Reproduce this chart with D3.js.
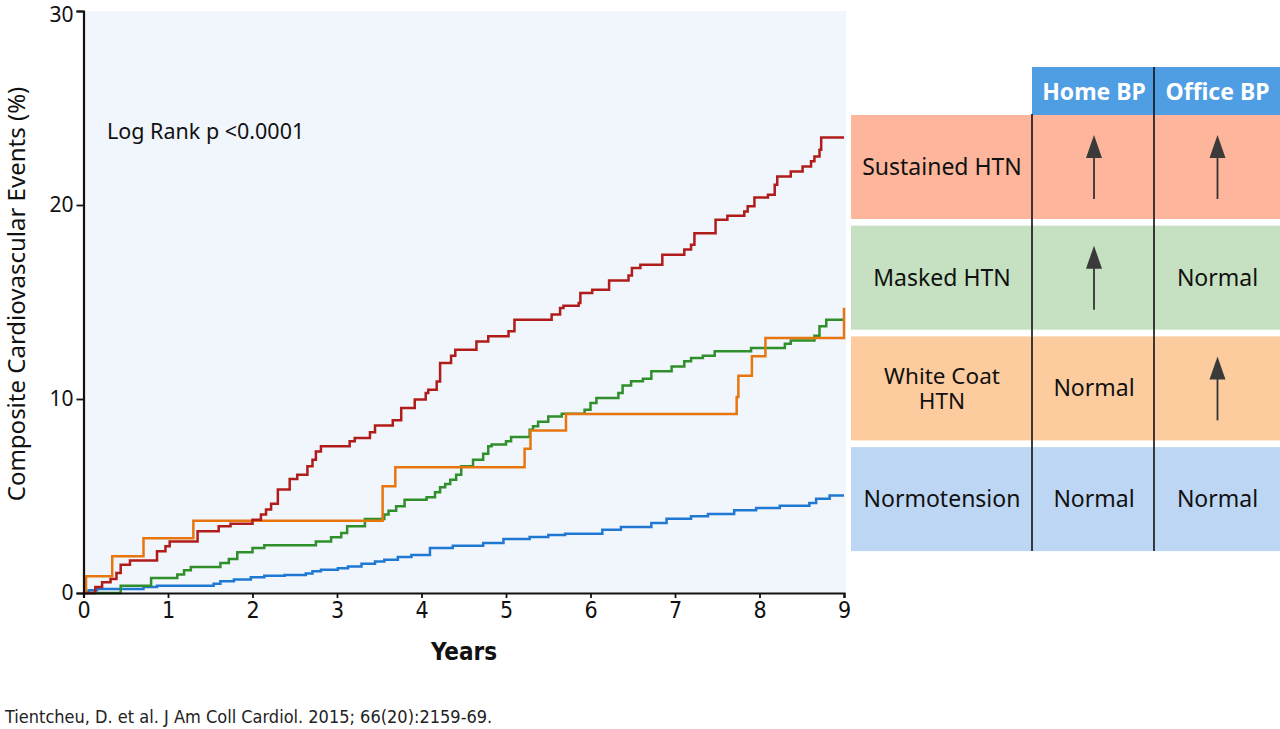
<!DOCTYPE html>
<html>
<head>
<meta charset="utf-8">
<script src="https://cdn.jsdelivr.net/npm/d3@7"></script>
<style>
  body { margin: 0; background: #fff; }
  svg { display: block; }
</style>
</head>
<body>
<svg id="chart" width="1280" height="729"></svg>
<script>
// KM curves, [years, cumulative events %]
const normotension = [[0,0],[0.06,0.14],[0.16,0.2],[0.71,0.31],[0.87,0.38],[1.54,0.48],[1.62,0.6],[1.78,0.69],[1.98,0.81],[2.14,0.89],[2.38,0.93],[2.63,1.0],[2.71,1.12],[2.81,1.2],[3.01,1.27],[3.13,1.37],[3.29,1.51],[3.45,1.63],[3.56,1.72],[3.72,1.86],[3.88,1.96],[4.1,2.32],[4.37,2.44],[4.73,2.58],[4.97,2.78],[5.28,2.89],[5.5,2.99],[5.7,3.06],[6.14,3.26],[6.36,3.4],[6.72,3.61],[6.9,3.83],[7.19,3.95],[7.39,4.07],[7.7,4.26],[7.96,4.38],[8.24,4.5],[8.59,4.64],[8.67,4.86],[8.83,5.02],[9,5.02]];
const whiteCoat = [[0,0],[0.03,0.86],[0.34,1.89],[0.71,2.82],[1.3,3.73],[3.54,5.5],[3.69,6.48],[5.22,7.44],[5.29,8.37],[5.71,9.23],[7.73,10.1],[7.75,11.2],[7.91,12.2],[8.07,13.14],[9,14.7]];
const masked = [[0,0],[0.44,0.38],[0.8,0.77],[1.11,0.95],[1.19,1.17],[1.27,1.34],[1.62,1.55],[1.72,1.75],[1.82,2.1],[2.0,2.32],[2.14,2.46],[2.75,2.66],[2.93,2.87],[3.05,3.09],[3.12,3.44],[3.33,3.81],[3.56,4.04],[3.61,4.24],[3.7,4.47],[3.8,4.81],[4.06,4.93],[4.16,5.19],[4.22,5.45],[4.28,5.62],[4.34,5.84],[4.41,6.1],[4.47,6.53],[4.61,6.87],[4.73,7.18],[4.79,7.56],[4.83,7.65],[5.0,7.82],[5.06,8.04],[5.28,8.42],[5.32,8.59],[5.38,8.83],[5.5,9.1],[5.66,9.24],[5.93,9.45],[6.0,9.79],[6.07,10.05],[6.33,10.31],[6.38,10.69],[6.48,10.91],[6.62,11.05],[6.72,11.43],[6.96,11.68],[7.11,11.94],[7.19,12.11],[7.33,12.23],[7.47,12.46],[7.9,12.63],[8.3,12.85],[8.37,13.02],[8.65,13.26],[8.71,13.75],[8.79,14.09],[9,14.09]];
const sustained = [[0,0],[0.14,0.31],[0.22,0.55],[0.32,0.72],[0.39,1.03],[0.44,1.46],[0.55,1.68],[0.87,2.15],[0.97,2.41],[1.02,2.66],[1.35,3.18],[1.6,3.44],[1.74,3.57],[2.0,3.78],[2.1,4.04],[2.16,4.3],[2.22,4.6],[2.3,5.33],[2.44,5.88],[2.53,6.1],[2.65,6.53],[2.71,6.87],[2.75,7.3],[2.81,7.56],[3.15,7.82],[3.21,7.99],[3.39,8.28],[3.45,8.63],[3.66,8.9],[3.76,9.54],[3.92,9.97],[4.05,10.31],[4.08,10.48],[4.18,10.9],[4.22,11.86],[4.35,12.23],[4.4,12.54],[4.65,12.97],[4.79,13.23],[5.03,13.49],[5.1,14.09],[5.54,14.35],[5.64,14.69],[5.68,14.81],[5.86,14.95],[5.88,15.46],[6.02,15.63],[6.22,16.11],[6.45,16.36],[6.49,16.75],[6.59,16.92],[6.85,17.44],[7.11,17.7],[7.19,17.95],[7.23,18.55],[7.48,19.24],[7.62,19.45],[7.82,19.67],[7.86,19.93],[7.94,20.39],[8.1,20.53],[8.18,21.05],[8.21,21.47],[8.37,21.73],[8.51,21.99],[8.61,22.25],[8.65,22.5],[8.71,22.85],[8.73,23.48],[9,23.48]];

const seriesData = [normotension, masked, whiteCoat, sustained];
const seriesColors = ["#1f78d1", "#2f8f2a", "#e8760f", "#b01c1a"];

const xTicks = [0,1,2,3,4,5,6,7,8,9];
const yTicks = [0,10,20,30];

// table
const groups = ["Sustained HTN", "Masked HTN", "White Coat HTN", "Normotension"];
const homeBP = ["up", "up", "Normal", "Normal"];
const officeBP = ["up", "Normal", "up", "Normal"];
const groupColors = ["#fdb69b", "#c6e1c1", "#fdcc9e", "#bdd6f3"];
const headers = ["Home BP", "Office BP"];

const svg = d3.select("#chart");
const sans = "'Noto Sans', 'Open Sans', sans-serif";
const narrow = "'DejaVu Sans Condensed', 'Liberation Sans Narrow', sans-serif";

let x = d3.scaleLinear().domain([0, 9]).range([83.5, 844]);
let y = d3.scaleLinear().domain([0, 30]).range([593, 11]);

//PLOT BACKGROUND
svg.append("rect")
  .attr("x", x(0))
  .attr("y", y(30))
  .attr("width", x(9) - x(0) + 2)
  .attr("height", y(0) - y(30))
  .attr("fill", "#f1f5fc");

//LINES
let line = d3.line()
  .x(d => x(d[0]))
  .y(d => y(d[1]))
  .curve(d3.curveStepAfter);

seriesData.forEach((s, i) => {
  svg.append("path")
    .datum(s)
    .attr("fill", "none")
    .attr("stroke", seriesColors[i])
    .attr("stroke-width", 2.5)
    .attr("d", line);
});

//AXES
let yAxis = svg.append("g")
  .attr("transform", "translate(" + x(0) + ",0)")
  .call(d3.axisLeft(y).tickValues(yTicks).tickSize(7).tickPadding(3));
yAxis.selectAll("text").style("font-family", sans).style("font-size", "21px").attr("fill", "#111");
yAxis.selectAll(".tick").filter(d => d === 30).select("text").attr("dy", "0.5em");

let xAxis = svg.append("g")
  .attr("transform", "translate(0," + y(0) + ")")
  .call(d3.axisBottom(x).tickValues(xTicks).tickSize(5).tickPadding(4));
xAxis.selectAll("text").style("font-family", narrow).style("font-size", "23px").attr("fill", "#111");

[yAxis, xAxis].forEach(a => {
  a.select(".domain").attr("stroke", "#111").attr("stroke-width", 2.2);
  a.selectAll(".tick line").attr("stroke", "#111").attr("stroke-width", 1.8);
});

//LABELS
svg.append("text")
  .attr("transform", "translate(25," + 294 + ") rotate(-90)")
  .attr("text-anchor", "middle")
  .style("font-family", sans)
  .style("font-size", "24px")
  .attr("fill", "#111")
  .text("Composite Cardiovascular Events (%)");

svg.append("text")
  .attr("x", 464)
  .attr("y", 660)
  .attr("text-anchor", "middle")
  .style("font-family", narrow)
  .style("font-size", "24px")
  .style("font-weight", "bold")
  .attr("fill", "#111")
  .text("Years");

svg.append("text")
  .attr("x", 107)
  .attr("y", 139)
  .style("font-family", sans)
  .style("font-size", "21.5px")
  .attr("fill", "#111")
  .text("Log Rank p <0.0001");

svg.append("text")
  .attr("x", 5)
  .attr("y", 723)
  .style("font-family", narrow)
  .style("font-size", "18px")
  .attr("fill", "#222")
  .text("Tientcheu, D. et al. J Am Coll Cardiol. 2015; 66(20):2159-69.");

//TABLE
let tbl = svg.append("g");
let colX = [851, 1033, 1155, 1280];
let headTop = 67, rowTop = 115, rowH = 104, rowGap = 6.7;

headers.forEach((h, j) => {
  tbl.append("rect")
    .attr("x", colX[j + 1] - 1)
    .attr("y", headTop)
    .attr("width", colX[j + 2] - colX[j + 1] + 1)
    .attr("height", rowTop - headTop)
    .attr("fill", "#4f9de3");
  tbl.append("text")
    .attr("x", (colX[j + 1] + colX[j + 2]) / 2)
    .attr("y", headTop + 33)
    .attr("text-anchor", "middle")
    .style("font-family", sans)
    .style("font-size", "23px")
    .style("font-weight", "bold")
    .attr("fill", "#fff")
    .text(h);
});

function arrow(cx, top, bottom) {
  tbl.append("line")
    .attr("x1", cx).attr("x2", cx)
    .attr("y1", top + 15).attr("y2", bottom)
    .attr("stroke", "#333").attr("stroke-width", 1.8);
  tbl.append("path")
    .attr("d", "M" + cx + "," + top + "L" + (cx + 8) + "," + (top + 23) + "L" + (cx - 8) + "," + (top + 23) + "Z")
    .attr("fill", "#3a3a3a");
}

groups.forEach((g, i) => {
  let top = rowTop + i * (rowH + rowGap);
  tbl.append("rect")
    .attr("x", colX[0])
    .attr("y", top)
    .attr("width", colX[3] - colX[0])
    .attr("height", rowH)
    .attr("fill", groupColors[i]);
  let mid = top + rowH / 2;
  let parts = g === "White Coat HTN" ? ["White Coat", "HTN"] : [g];
  parts.forEach((p, k) => {
    tbl.append("text")
      .attr("text-anchor", "middle")
      .style("font-family", sans)
      .style("font-size", parts.length > 1 ? "22.5px" : "23px")
      .attr("fill", "#111")
      .attr("x", (colX[0] + colX[1]) / 2)
      .attr("y", mid + 8 + (k - (parts.length - 1) / 2) * 25)
      .text(p);
  });
  [homeBP[i], officeBP[i]].forEach((v, j) => {
    let cx = (colX[j + 1] + colX[j + 2]) / 2;
    if (v === "up") {
      arrow(cx, top + 20, top + 84);
    } else {
      tbl.append("text")
        .attr("x", cx)
        .attr("y", mid + 8)
        .attr("text-anchor", "middle")
        .style("font-family", sans)
        .style("font-size", "23px")
        .attr("fill", "#111")
        .text(v);
    }
  });
});

let tableBottom = rowTop + 4 * rowH + 3 * rowGap;
tbl.append("line")
  .attr("x1", colX[1] - 1).attr("x2", colX[1] - 1)
  .attr("y1", rowTop - 1).attr("y2", tableBottom)
  .attr("stroke", "#111").attr("stroke-width", 1.6);
tbl.append("line")
  .attr("x1", colX[2] - 1).attr("x2", colX[2] - 1)
  .attr("y1", headTop).attr("y2", tableBottom)
  .attr("stroke", "#111").attr("stroke-width", 1.6);
</script>
</body>
</html>
